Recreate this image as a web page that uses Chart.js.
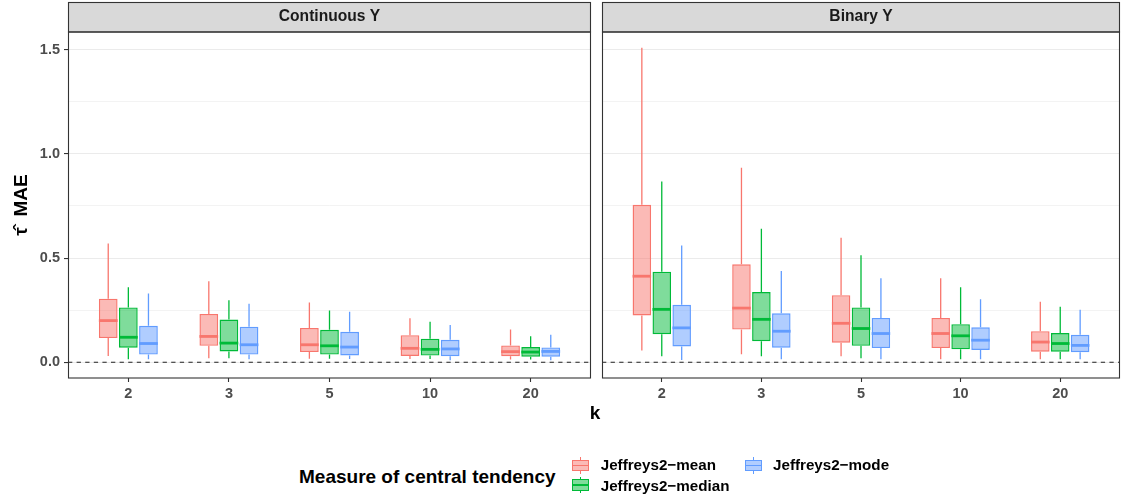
<!DOCTYPE html>
<html>
<head>
<meta charset="utf-8">
<script src="https://cdn.jsdelivr.net/npm/chart.js@4.4.1/dist/chart.umd.min.js"></script>
<style>
  html, body { margin:0; padding:0; background:#fff; width:1122px; height:499px; overflow:hidden;
    font-family:"Liberation Sans", Arial, Helvetica, sans-serif; }
  .abs { position:absolute; }
  #wrapA { left:0; top:0; width:600px; height:410px; }
  #wrapB { left:600px; top:0; width:522px; height:410px; }
  #xtitle { left:495px; width:200px; top:402.4px; text-align:center; font-weight:bold; font-size:19px; line-height:22px; color:#000; }
  #legTitle { left:299px; top:465.5px; font-weight:bold; font-size:19px; line-height:22px; color:#000; white-space:nowrap; }
  .legText { font-weight:bold; font-size:15.2px; line-height:17px; color:#000; white-space:nowrap; }
  .key { position:absolute; width:17.3px; height:17px; }
  .key .w { position:absolute; left:8px; width:1.3px; height:2.7px; }
  .key .bx { position:absolute; left:0; top:2.7px; width:17.3px; height:11.6px; box-sizing:border-box; border-style:solid; border-width:1.4px; }
  .key .md { position:absolute; left:0; right:0; top:50%; height:1.4px; margin-top:-0.7px; }
</style>
</head>
<body>
<div id="wrapA" class="abs"><canvas id="cA" width="600" height="410"></canvas></div>
<div id="wrapB" class="abs"><canvas id="cB" width="522" height="410"></canvas></div>
<div id="xtitle" class="abs">k</div>
<div id="legTitle" class="abs">Measure of central tendency</div>
<div id="legend"></div>
<script>
// ---------------- data ----------------
const kLabels = ['2', '3', '5', '10', '20'];
const seriesNames = ['Jeffreys2\u2212mean', 'Jeffreys2\u2212median', 'Jeffreys2\u2212mode'];
const panelTitles = ['Continuous Y', 'Binary Y'];
const yAxisTitle = '\u03C4\u0302  MAE';
const xAxisTitle = 'k';
const legendTitle = 'Measure of central tendency';
const yTickValues = [0, 0.25, 0.5, 0.75, 1.0, 1.25, 1.5];
const yMajorLabels = ['0.0', '0.5', '1.0', '1.5'];
const yRange = [-0.0755, 1.585];
const refLineY = 0;

// box statistics per k: [lower whisker, Q1, median, Q3, upper whisker]
const contMean   = [[0.030,0.116,0.200,0.305,0.570],[0.019,0.079,0.124,0.232,0.389],[0.017,0.049,0.084,0.165,0.287],[0.016,0.030,0.067,0.130,0.211],[0.013,0.029,0.051,0.081,0.157]];
const contMedian = [[0.014,0.070,0.120,0.263,0.360],[0.019,0.052,0.092,0.205,0.298],[0.017,0.037,0.079,0.156,0.248],[0.016,0.032,0.062,0.113,0.195],[0.013,0.027,0.049,0.073,0.125]];
const contMode   = [[0.014,0.037,0.090,0.175,0.330],[0.014,0.037,0.084,0.171,0.281],[0.016,0.033,0.073,0.146,0.243],[0.010,0.029,0.064,0.108,0.179],[0.010,0.027,0.052,0.071,0.132]];
const binMean    = [[0.057,0.225,0.413,0.756,1.510],[0.038,0.157,0.260,0.470,0.933],[0.029,0.094,0.187,0.322,0.598],[0.014,0.068,0.138,0.213,0.403],[0.014,0.051,0.097,0.149,0.290]];
const binMedian  = [[0.029,0.135,0.254,0.435,0.867],[0.029,0.101,0.206,0.337,0.641],[0.019,0.079,0.162,0.263,0.514],[0.014,0.062,0.127,0.183,0.360],[0.014,0.051,0.090,0.140,0.267]];
const binMode    = [[0.011,0.076,0.165,0.276,0.560],[0.014,0.070,0.149,0.235,0.438],[0.014,0.068,0.138,0.213,0.403],[0.014,0.059,0.106,0.168,0.303],[0.014,0.048,0.081,0.132,0.252]];

// ---------------- style ----------------
const FONT = '"Liberation Sans", Arial, Helvetica, sans-serif';
const strokes = ['#F8766D', '#00BA38', '#619CFF'];
const fills = ['rgba(248,118,109,0.5)', 'rgba(0,186,56,0.5)', 'rgba(97,156,255,0.5)'];
Chart.defaults.font.family = FONT;

const isMajor = v => Math.abs(v * 2 - Math.round(v * 2)) < 1e-6;

const panelPlugin = {
  id: 'panelDecor',
  beforeDraw(chart) {
    const { ctx, chartArea: a } = chart;
    ctx.save();
    ctx.fillStyle = '#D9D9D9';
    ctx.fillRect(a.left, 2, a.right - a.left, a.top - 2);
    ctx.strokeStyle = '#333333';
    ctx.lineWidth = 1.1;
    ctx.strokeRect(a.left + 0.5, 2.5, a.right - a.left - 1, a.top - 2.5);
    ctx.restore();
  },
  afterDatasetsDraw(chart) {
    const { ctx } = chart;
    const yS = chart.scales.y;
    ctx.save();
    chart.data.datasets.forEach((ds, di) => {
      if (!ds.stats) return;
      const meta = chart.getDatasetMeta(di);
      meta.data.forEach((el, i) => {
        const s = ds.stats[i];
        const x = el.x, w = el.width;
        ctx.strokeStyle = ds.borderColor;
        ctx.lineWidth = 1.3;
        ctx.beginPath();
        ctx.moveTo(x, yS.getPixelForValue(s[3]));
        ctx.lineTo(x, yS.getPixelForValue(s[4]));
        ctx.moveTo(x, yS.getPixelForValue(s[1]));
        ctx.lineTo(x, yS.getPixelForValue(s[0]));
        ctx.stroke();
        ctx.lineWidth = 2.8;
        ctx.beginPath();
        const ym = yS.getPixelForValue(s[2]);
        ctx.moveTo(x - w / 2, ym);
        ctx.lineTo(x + w / 2, ym);
        ctx.stroke();
      });
    });
    ctx.restore();
  },
  afterDraw(chart) {
    const { ctx, chartArea: a } = chart;
    ctx.save();
    ctx.strokeStyle = '#333333';
    ctx.lineWidth = 1.1;
    ctx.strokeRect(a.left + 0.5, a.top, a.right - a.left - 1, a.bottom - a.top);
    ctx.restore();
  }
};

function makeDatasets(statsList) {
  const ds = seriesNames.map((name, s) => ({
    type: 'bar',
    label: name,
    data: statsList[s].map((b, i) => ({ x: i + 1, y: [b[1], b[3]] })),
    stats: statsList[s],
    backgroundColor: fills[s],
    borderColor: strokes[s],
    borderWidth: 1.4,
    borderSkipped: false,
    categoryPercentage: 0.6,
    barPercentage: 0.93,
    order: 2
  }));
  ds.push({
    type: 'line',
    label: 'ref',
    data: [{ x: 0.4, y: refLineY }, { x: kLabels.length + 0.6, y: refLineY }],
    borderColor: '#222222',
    borderWidth: 1.2,
    borderDash: [4.3, 4.3],
    pointRadius: 0,
    fill: false,
    order: 1
  });
  return ds;
}

function makeChart(canvasId, title, statsList, showY, padding) {
  const yScale = {
    min: yRange[0], max: yRange[1],
    afterBuildTicks: s => { s.ticks = yTickValues.map(v => ({ value: v })); },
    afterFit: s => { s.width = showY ? 68 : 0; },
    ticks: {
      display: showY,
      callback: v => isMajor(v) ? yMajorLabels[Math.round(v * 2)] : '',
      color: '#4D4D4D',
      font: { family: FONT, size: 14.5, weight: 'bold' },
      padding: 4
    },
    grid: {
      color: '#EBEBEB',
      lineWidth: c => (c.tick && isMajor(c.tick.value)) ? 1.1 : 0.6,
      drawTicks: showY,
      tickLength: 4,
      tickColor: c => (c.tick && isMajor(c.tick.value)) ? '#333333' : 'rgba(0,0,0,0)',
      tickWidth: 1.1
    },
    border: { display: false },
    title: {
      display: showY, text: yAxisTitle, color: '#000',
      font: { family: FONT, size: 19, weight: 'bold' },
      padding: { top: 10, bottom: 0 }
    }
  };
  return new Chart(document.getElementById(canvasId), {
    type: 'bar',
    data: { datasets: makeDatasets(statsList) },
    plugins: [panelPlugin],
    options: {
      responsive: false,
      animation: false,
      devicePixelRatio: 1,
      layout: { padding: padding },
      scales: {
        x: {
          type: 'linear',
          min: 0.4, max: kLabels.length + 0.6,
          offset: false,
          afterBuildTicks: s => { s.ticks = kLabels.map((_, i) => ({ value: i + 1 })); },
          afterFit: s => { s.height = 32; },
          ticks: {
            autoSkip: false, maxRotation: 0,
            callback: v => kLabels[Math.round(v) - 1] ?? '',
            color: '#4D4D4D',
            font: { family: FONT, size: 14.5, weight: 'bold' },
            padding: 3.5
          },
          grid: { offset: false, drawOnChartArea: false, color: 'rgba(0,0,0,0)', tickLength: 4, tickColor: '#333333', tickWidth: 1.1 },
          border: { display: false }
        },
        y: yScale
      },
      plugins: {
        legend: { display: false },
        tooltip: { enabled: false },
        title: {
          display: true, text: title, fullSize: false, position: 'top',
          color: '#1A1A1A',
          font: { family: FONT, size: 15.6, weight: 'bold', lineHeight: 1.2 },
          padding: { top: 5.64, bottom: 5.64 }
        }
      }
    }
  });
}

makeChart('cA', panelTitles[0], [contMean, contMedian, contMode], true, { top: 2, right: 9, bottom: 0, left: 0 });
makeChart('cB', panelTitles[1], [binMean, binMedian, binMode], false, { top: 2, right: 2, bottom: 0, left: 2 });

document.getElementById('xtitle').textContent = xAxisTitle;
document.getElementById('legTitle').textContent = legendTitle;

// legend (ggplot-style boxplot keys), 2 rows, filled column-wise
const legPos = [
  { kx: 571.7, ky: 457, tx: 600.7, ty: 456.4 },
  { kx: 571.7, ky: 476.5, tx: 600.7, ty: 477.4 },
  { kx: 745, ky: 457, tx: 773, ty: 456.4 }
];
const leg = document.getElementById('legend');
seriesNames.forEach((name, s) => {
  const p = legPos[s];
  const key = document.createElement('div');
  key.className = 'key';
  key.style.left = p.kx + 'px';
  key.style.top = p.ky + 'px';
  key.innerHTML =
    '<div class="w" style="top:0;background:' + strokes[s] + '"></div>' +
    '<div class="w" style="top:14.3px;background:' + strokes[s] + '"></div>' +
    '<div class="bx" style="border-color:' + strokes[s] + ';background:' + fills[s] + '">' +
    '<div class="md" style="background:' + strokes[s] + '"></div></div>';
  leg.appendChild(key);
  const t = document.createElement('div');
  t.className = 'abs legText';
  t.style.left = p.tx + 'px';
  t.style.top = p.ty + 'px';
  t.textContent = name;
  leg.appendChild(t);
});
</script>
</body>
</html>
